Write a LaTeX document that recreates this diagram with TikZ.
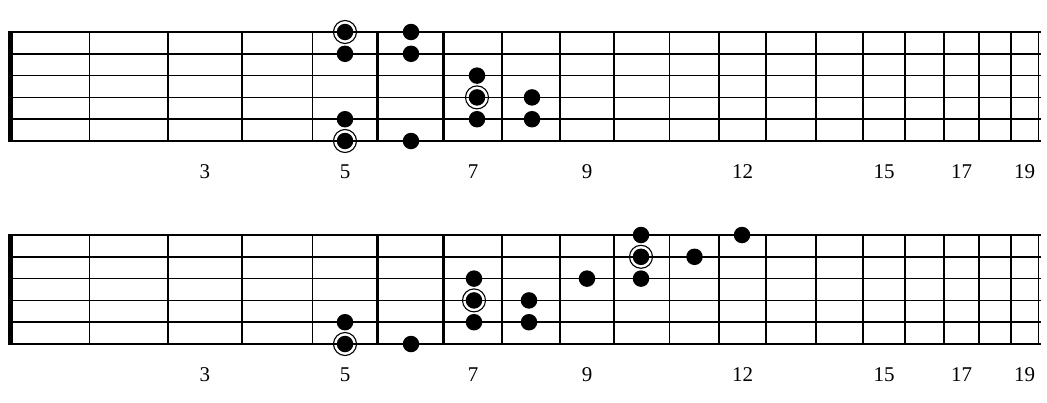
\documentclass[tikz,border=0pt]{standalone}
\usepackage{fontspec}
\setmainfont{Liberation Serif}
\tikzset{
  guitarstring/.style={line width=1.5pt},
  fretline/.style={line width=1.6pt},
  thickfret/.style={line width=2.6pt},
  nutbar/.style={line width=5pt},
  notedot/.style={circle, fill=black, inner sep=0pt, minimum size=16.5pt},
  rootring/.style={circle, draw, line width=1.1pt, inner sep=0pt, minimum size=23pt},
  fretnum/.style={font=\fontsize{21}{25}\selectfont, inner sep=0pt}
}
\begin{document}
\begin{tikzpicture}[x=1pt, y=-1pt]
  \useasboundingbox (0,0) rectangle (1047,402);

  % two fretboards, upper and lower
  \foreach \top/\board in {32/upper, 235/lower} {
    \begin{scope}[yshift=-\top pt]
      \foreach \s in {0,...,5}
        \draw [guitarstring] (10,\s*21.8) -- (1041,\s*21.8);
      \foreach \x in {89.3, 167.7, 242, 312.3, 502, 560, 614, 669.3, 719,
                      766, 816, 863, 905, 944, 979, 1010.7, 1038.3}
        \draw [fretline] (\x,0) -- (\x,109);
      \draw [thickfret] (377.7,0) -- (377.7,109);
      \draw [thickfret] (443.7,0) -- (443.7,109);
      \draw [nutbar] (10,-0.75) -- (10,109.75);
      \foreach \n/\x in {3/204.9, 5/345, 7/473, 9/587, 12/742.5, 15/884,
                         17/961.5, 19/1024.5}
        \node [fretnum] (\board-num\n) at (\x,140) {\n};
    \end{scope}
  }

  % notes on the upper board
  \foreach \x/\s [count=\i] in {345/1, 345/2, 345/5, 345/6, 411/1, 411/2, 411/6,
                                477/3, 477/4, 477/5, 532/4, 532/5}
    \node [notedot] (upper-dot\i) at (\x,32+\s*21.8-21.8) {};
  \foreach \x/\s [count=\i] in {345/1, 345/6, 477/4}
    \node [rootring] (upper-root\i) at (\x,32+\s*21.8-21.8) {};

  % notes on the lower board
  \foreach \x/\s [count=\i] in {345/5, 345/6, 411/6, 474/3, 474/4, 474/5,
                                529/4, 529/5, 587/3, 641/1, 641/2, 641/3,
                                694.5/2, 742/1}
    \node [notedot] (lower-dot\i) at (\x,235+\s*21.8-21.8) {};
  \foreach \x/\s [count=\i] in {345/6, 474/4, 641/2}
    \node [rootring] (lower-root\i) at (\x,235+\s*21.8-21.8) {};
\end{tikzpicture}
\end{document}
